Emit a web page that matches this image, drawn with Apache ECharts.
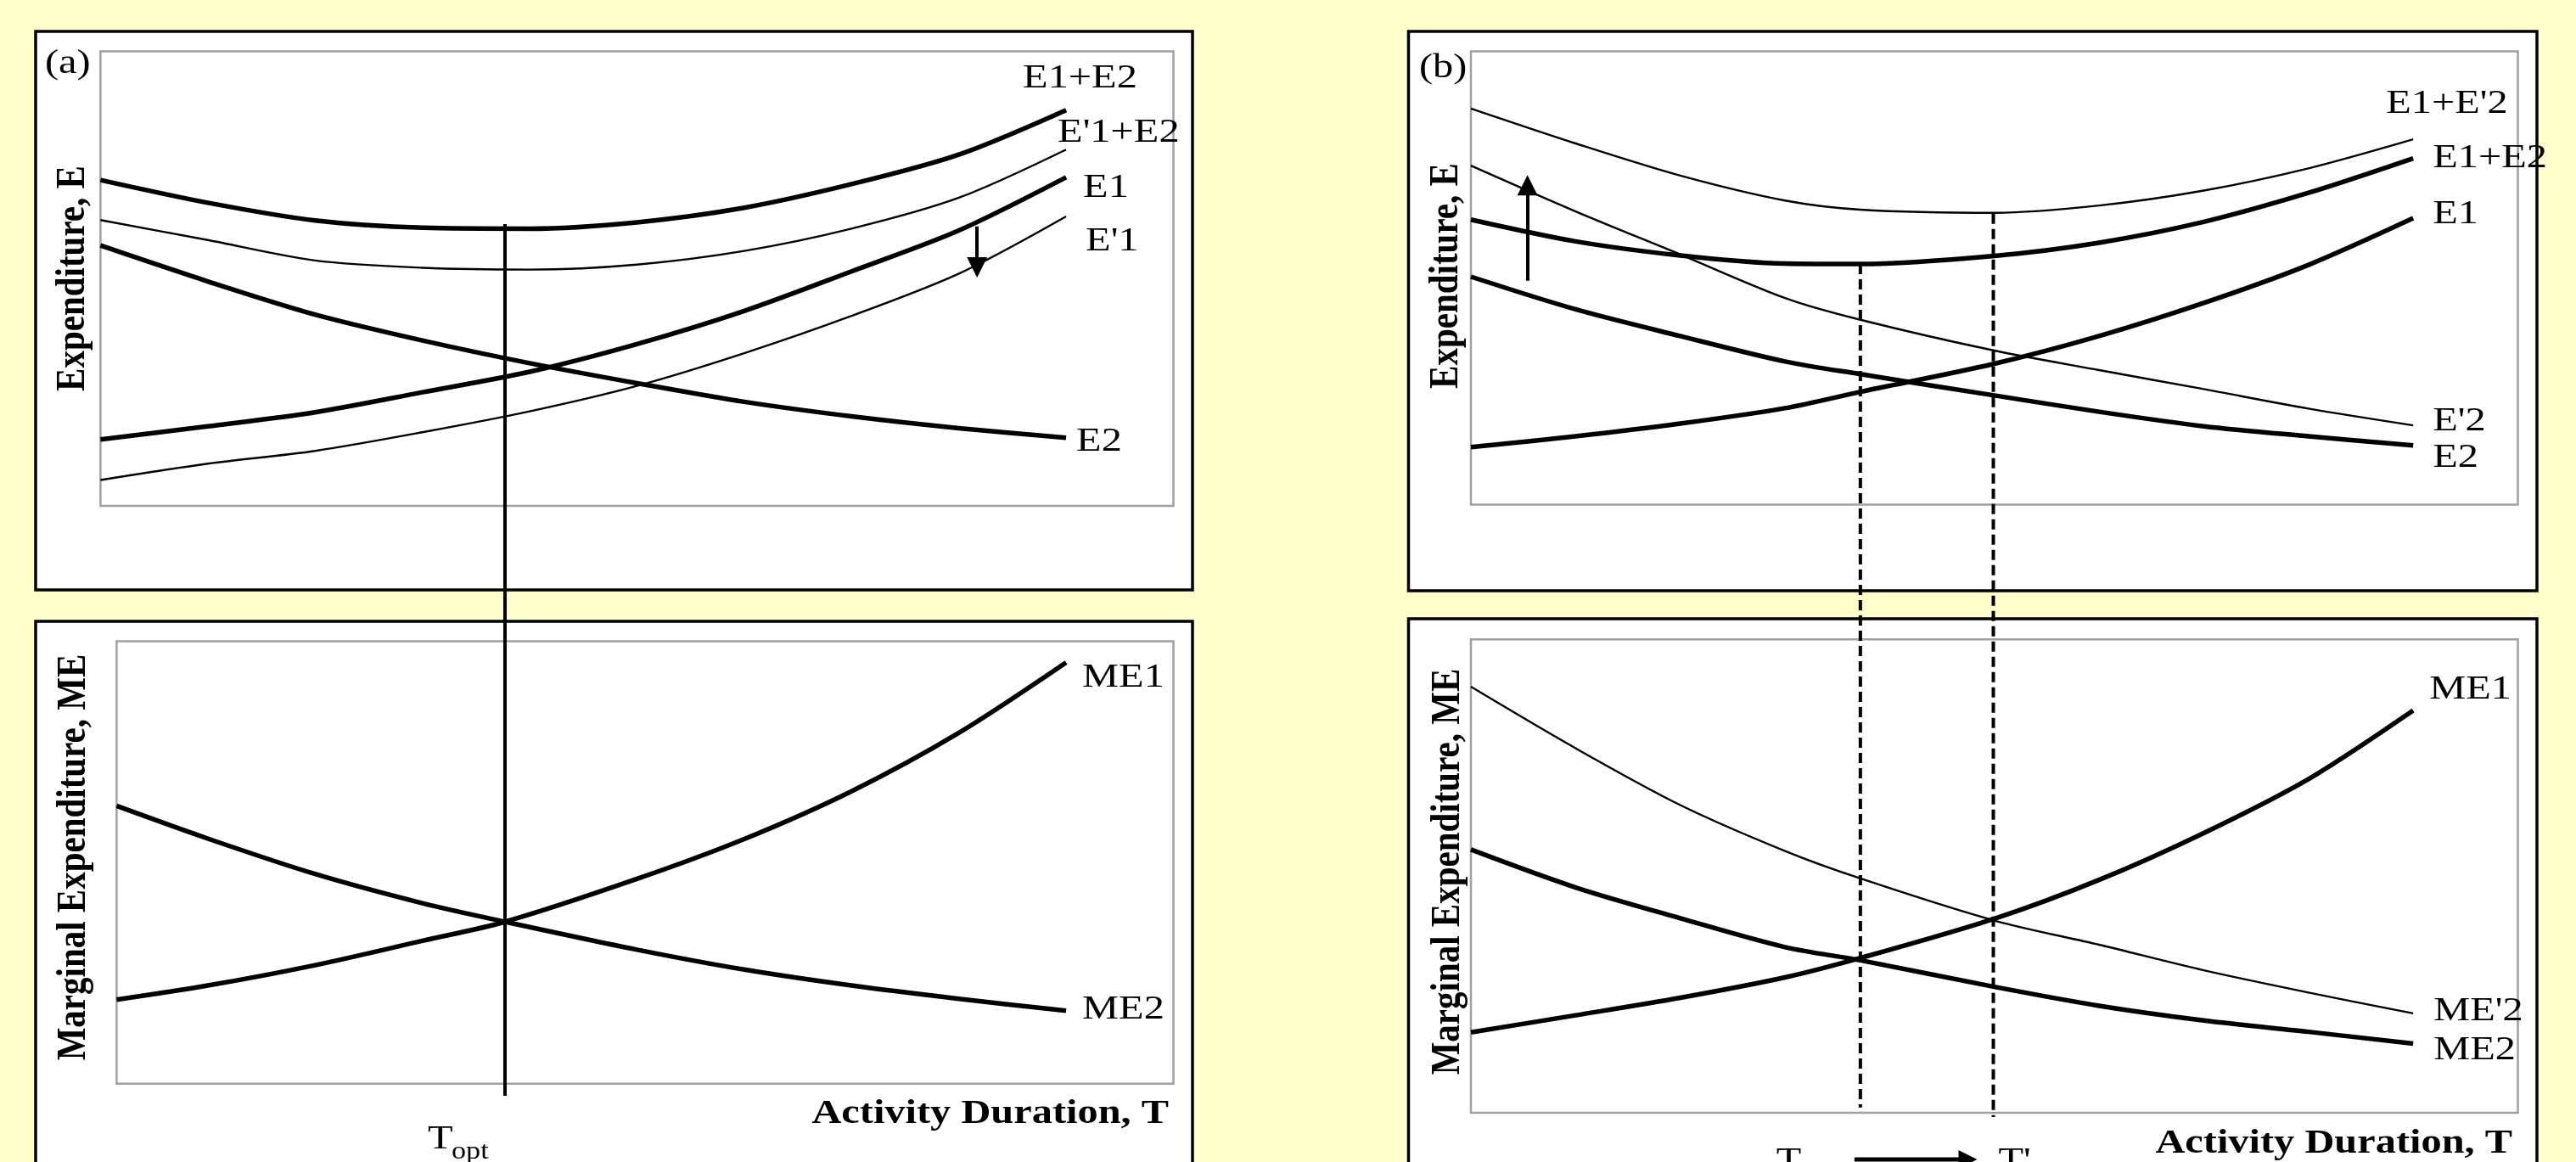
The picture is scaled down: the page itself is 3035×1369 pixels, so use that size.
<!DOCTYPE html>
<html>
<head>
<meta charset="utf-8">
<script src="https://cdn.jsdelivr.net/npm/echarts@6/dist/echarts.min.js"></script>
<style>
html,body{margin:0;padding:0;background:#FFFFCC;}
#c{width:3035px;height:1369px;}
</style>
</head>
<body>
<div id="c"></div>
<script>
// ---------------- data ----------------
// Panel (a): activity duration (0..100 across the plot width)
const durationA = [0, 10, 20, 30, 40, 50, 60, 70, 80, 90];
const e1A      = [14.6, 17.5, 20.6, 25.0, 29.5, 35.6, 42.9, 51.6, 60.6, 72.3];
const e1PrimeA = [5.7, 9.3, 12.1, 16.2, 20.8, 26.4, 33.6, 41.8, 51.1, 63.7];
const e2A      = [57.3, 49.4, 42.1, 36.4, 31.4, 27.0, 22.9, 19.7, 17.1, 15.0];
const e1e2A    = [71.7, 66.7, 62.8, 61.2, 61.0, 62.4, 65.6, 70.8, 77.3, 87.1];
const e1pe2A   = [62.9, 58.5, 54.0, 52.4, 52.0, 53.1, 56.1, 61.0, 67.8, 78.4];

const durationAMarg = [1.5, 10, 20, 30, 37.7, 50, 60, 70, 80, 90];
const me1A = [19.0, 22.2, 26.8, 32.3, 36.6, 46.3, 55.3, 66.1, 79.3, 95.2];
const me2A = [62.8, 55.4, 47.4, 40.8, 36.6, 30.3, 25.8, 22.2, 19.2, 16.5];

// Panel (b)
const durationB = [0, 10, 20, 30, 37.2, 50, 60, 70, 80, 90];
const e1B       = [12.7, 15.1, 17.9, 21.3, 24.9, 31.1, 37.2, 44.5, 52.9, 63.2];
const e2B       = [50.3, 43.1, 37.2, 31.6, 28.8, 24.1, 20.5, 17.3, 15.1, 13.1];
const e2PrimeB  = [74.8, 64.7, 55.2, 45.6, 40.8, 34.0, 29.7, 25.5, 21.2, 17.5];
const e1e2B     = [62.9, 58.1, 55.0, 53.2, 53.1, 54.9, 57.8, 62.4, 68.8, 76.4];
const e1e2pB    = [87.4, 79.7, 72.6, 67.1, 65.1, 64.4, 66.0, 69.3, 74.2, 80.6];
const me1B      = [17.0, 20.6, 24.3, 28.6, 32.7, 41.0, 49.2, 59.1, 70.5, 85.0];
const me2B      = [55.6, 47.6, 41.1, 35.0, 32.2, 26.6, 22.6, 19.5, 17.1, 14.6];
const me2PrimeB = [90.0, 77.0, 65.0, 55.3, 49.5, 40.6, 35.5, 30.1, 25.4, 21.0];

// annotations: [T value, top value (E axis), bottom value (ME axis)]
const optLineA  = [37.7, 62.0, -2.7];
const optLinesB = [[37.2, 53.1, 1.1], [49.9, 64.2, -0.9]];
// shift arrows: [T value, from, to]
const shiftArrowA = [81.7, 61.5, 52.5];
const shiftArrowB = [5.4, 49.4, 70.5];

// ---------------- chart ----------------
const chart = echarts.init(document.getElementById('c'), null, {renderer: 'canvas', width: 3035, height: 1369});
const FONT = '"Liberation Serif", "Times New Roman", serif';
const SX = 1.18;
const THICK = 5.5, THIN = 2.4;

const gridBoxes = [
  {left: 118.4, top: 60.6, width: 1264.1, height: 535.4},
  {left: 137.4, top: 755.5, width: 1245.1, height: 521.3},
  {left: 1733, top: 60.6, width: 1233.5, height: 534},
  {left: 1733, top: 753.3, width: 1233.5, height: 557.7}
];
const xMins = [0, 1.5, 0, 0];

const grids = gridBoxes.map(g => Object.assign({}, g, {
  show: true, backgroundColor: '#ffffff', borderColor: '#a0a0a0', borderWidth: 2.5,
  containLabel: false, outerBoundsMode: 'none'
}));

const curves = [
  {g: 0, xs: durationA, ys: e1e2A,    w: THICK, label: 'E1+E2',  dx: -51, dy: -37},
  {g: 0, xs: durationA, ys: e1pe2A,   w: THIN,  label: "E'1+E2", dx: -10, dy: -20},
  {g: 0, xs: durationA, ys: e1A,      w: THICK, label: 'E1',     dx: 20,  dy: 12, arrow: shiftArrowA},
  {g: 0, xs: durationA, ys: e1PrimeA, w: THIN,  label: "E'1",    dx: 23,  dy: 29},
  {g: 0, xs: durationA, ys: e2A,      w: THICK, label: 'E2',     dx: 12,  dy: 5},
  {g: 1, xs: durationAMarg, ys: me1A, w: THICK, label: 'ME1',    dx: 19,  dy: 18},
  {g: 1, xs: durationAMarg, ys: me2A, w: THICK, label: 'ME2',    dx: 19,  dy: -2},
  {g: 2, xs: durationB, ys: e1e2pB,   w: THIN,  label: "E1+E'2", dx: -32, dy: -42},
  {g: 2, xs: durationB, ys: e1e2B,    w: THICK, label: 'E1+E2',  dx: 23,  dy: 0},
  {g: 2, xs: durationB, ys: e1B,      w: THICK, label: 'E1',     dx: 23,  dy: -5},
  {g: 2, xs: durationB, ys: e2PrimeB, w: THIN,  label: "E'2",    dx: 23,  dy: -5},
  {g: 2, xs: durationB, ys: e2B,      w: THICK, label: 'E2',     dx: 23,  dy: 15, arrow: shiftArrowB},
  {g: 3, xs: durationB, ys: me1B,     w: THICK, label: 'ME1',    dx: 19,  dy: -25},
  {g: 3, xs: durationB, ys: me2PrimeB,w: THIN,  label: "ME'2",   dx: 24,  dy: -3},
  {g: 3, xs: durationB, ys: me2B,     w: THICK, label: 'ME2',    dx: 24,  dy: 7.5}
];

const series = curves.map(c => {
  const s = {
    type: 'line', xAxisIndex: c.g, yAxisIndex: c.g,
    data: c.xs.map((x, i) => [x, c.ys[i]]),
    smooth: 0.3, showSymbol: false, symbol: 'none', silent: true, animation: false,
    lineStyle: {color: '#000', width: c.w, cap: 'butt', join: 'round'}, z: 3
  };
  if (c.arrow) {
    s.markLine = {
      silent: true, animation: false, symbol: ['none', 'triangle'], symbolSize: 24,
      label: {show: false}, lineStyle: {color: '#000', width: 4, type: 'solid'},
      data: [[{coord: [c.arrow[0], c.arrow[1]]}, {coord: [c.arrow[0], c.arrow[2]]}]]
    };
  }
  return s;
});

chart.setOption({
  backgroundColor: '#FFFFCC',
  animation: false,
  grid: grids,
  xAxis: grids.map((g, i) => ({type: 'value', gridIndex: i, min: xMins[i], max: 100, show: false})),
  yAxis: grids.map((g, i) => ({type: 'value', gridIndex: i, min: 0, max: 100, show: false})),
  series: series
});

// ---------------- annotations ----------------
const px = (g, pt) => chart.convertToPixel({gridIndex: g}, pt);

function txt(x, y, text, o) {
  o = o || {};
  const rot = o.rot || 0;
  return {
    type: 'text', x: x, y: y, z: 100, silent: true,
    rotation: rot, scaleX: rot ? 1 : SX, scaleY: rot ? SX : 1,
    style: {
      text: text, fill: '#000',
      font: (o.bold ? 'bold ' : '') + (o.size || 41) + 'px ' + FONT,
      align: o.align || 'left', verticalAlign: 'middle',
      textAlign: o.align || 'left', textVerticalAlign: 'middle'
    }
  };
}
function box(x, y, w, h) {
  return {type: 'rect', z: -10, silent: true, shape: {x: x, y: y, width: w, height: h},
    style: {fill: '#ffffff', stroke: '#000', lineWidth: 3.5}};
}
function vline(p1, p2, dashed, width) {
  return {type: 'line', z: 90, silent: true,
    shape: {x1: p1[0], y1: p1[1], x2: p2[0], y2: p2[1]},
    style: {stroke: '#000', lineWidth: width, lineDash: dashed ? [12, 6] : null}};
}

const els = [
  box(42, 37, 1363, 658),
  box(42, 732, 1363, 680),
  box(1659.5, 37, 1329.5, 659),
  box(1659.5, 729, 1329.5, 680)
];

// curve labels at the end of each curve
curves.forEach(c => {
  const n = c.xs.length - 1;
  const p = px(c.g, [c.xs[n], c.ys[n]]);
  els.push(txt(p[0] + c.dx, p[1] + c.dy, c.label));
});

// T_opt line (panel a)
const optTop = px(0, [optLineA[0], optLineA[1]]);
const optBot = px(1, [optLineA[0], optLineA[2]]);
els.push(vline(optTop, [optTop[0], optBot[1]], false, 4));
els.push(txt(optTop[0] - 91, 1342, 'T'));
els.push(txt(optTop[0] - 63, 1357, 'opt', {size: 29}));

// dashed lines (panel b)
const bx = [];
optLinesB.forEach(l => {
  const t = px(2, [l[0], l[1]]);
  const b = px(3, [l[0], l[2]]);
  bx.push(t[0]);
  els.push(vline(t, [t[0], b[1]], true, 4));
});
els.push(txt(bx[0] - 99, 1368, 'T'));
els.push(txt(bx[1] + 6, 1368, "T'"));
els.push({type: 'line', z: 90, silent: true, shape: {x1: bx[0] - 7, y1: 1366, x2: bx[1] - 36, y2: 1366},
  style: {stroke: '#000', lineWidth: 5}});
els.push({type: 'polygon', z: 90, silent: true,
  shape: {points: [[bx[1] - 41, 1355], [bx[1] - 19, 1366], [bx[1] - 41, 1377]]}, style: {fill: '#000'}});

// panel tags, axis titles
els.push(txt(53, 75, '(a)'));
els.push(txt(1672, 80, '(b)'));
els.push(txt(86, 328, 'Expenditure, E', {bold: true, rot: Math.PI / 2, align: 'center'}));
els.push(txt(87, 1010, 'Marginal Expenditure, ME', {bold: true, rot: Math.PI / 2, align: 'center'}));
els.push(txt(1704, 325, 'Expenditure, E', {bold: true, rot: Math.PI / 2, align: 'center'}));
els.push(txt(1706, 1027, 'Marginal Expenditure, ME', {bold: true, rot: Math.PI / 2, align: 'center'}));
els.push(txt(1377, 1312, 'Activity Duration, T', {bold: true, align: 'right'}));
els.push(txt(2960, 1347, 'Activity Duration, T', {bold: true, align: 'right'}));

chart.setOption({graphic: {elements: els}});
</script>
</body>
</html>
